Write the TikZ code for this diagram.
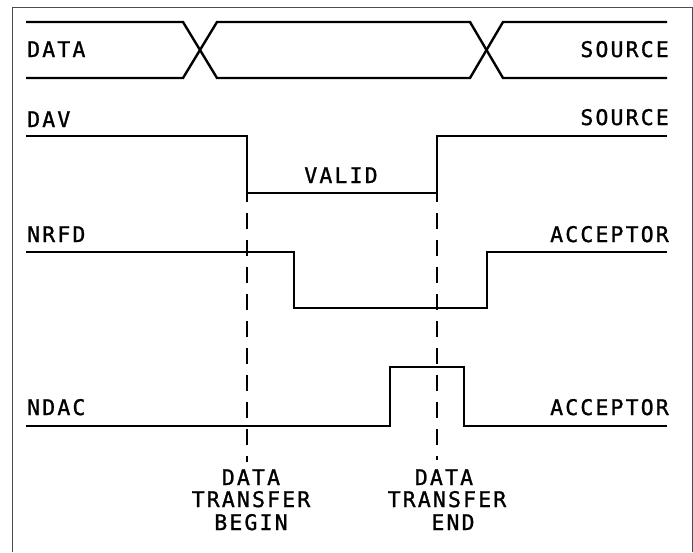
\documentclass[tikz,border=0pt]{standalone}
\usepackage{fontspec}
\setmainfont{DejaVu Sans Mono}[LetterSpace=10,FakeBold=1.2]
\begin{document}
\begin{tikzpicture}[x=1pt,y=-1pt,
  sig/.style={line width=2.4pt,line join=miter},
  guide/.style={line width=2.4pt,dash pattern=on 16pt off 11pt,dash phase=7pt},
  frame/.style={line width=0.9pt,draw=black!70},
  lbl/.style={inner sep=0pt,font=\fontsize{21.5}{22}\selectfont},
  lft/.style={lbl,anchor=base west},
  rgt/.style={lbl,anchor=base east},
  ctr/.style={lbl,anchor=base,align=center}]
\useasboundingbox (0,0) rectangle (693,552);
% frame
\draw[frame] (12,552) -- (12,7) -- (692,7) -- (692,552);
% DATA bus
\draw[sig] (26,22) -- (183,22) -- (217,78) -- (470,78) -- (503,22) -- (667,22);
\draw[sig] (26,78) -- (183,78) -- (217,22) -- (470,22) -- (503,78) -- (667,78);
\node[lft] (ldata) at (27,57) {DATA};
\node[rgt] (rdata) at (669,57) {SOURCE};
% DAV
\draw[sig] (26,136) -- (247,136) -- (247,193) -- (437,193) -- (437,136) -- (667,136);
\node[lft] (ldav) at (27,127) {DAV};
\node[rgt] (rdav) at (669,125) {SOURCE};
\node[lbl,anchor=base] (valid) at (341,183) {VALID};
% NRFD
\draw[sig] (26,252) -- (294,252) -- (294,308) -- (487,308) -- (487,252) -- (667,252);
\node[lft] (lnrfd) at (27,242) {NRFD};
\node[rgt] (rnrfd) at (669,242) {ACCEPTOR};
% NDAC
\draw[sig] (26,426) -- (390,426) -- (390,367) -- (464,367) -- (464,426) -- (667,426);
\node[lft] (lndac) at (27,415) {NDAC};
\node[rgt] (rndac) at (669,415) {ACCEPTOR};
% guides
\coordinate (g1a) at (247,193); \coordinate (g1b) at (247,462);
\coordinate (g2a) at (437,193); \coordinate (g2b) at (437,460);
\draw[guide] (g1a) -- (g1b);
\draw[guide] (g2a) -- (g2b);
\node[lbl,anchor=base] (b1) at (251,485) {DATA};
\node[lbl,anchor=base] (b2) at (251,507) {TRANSFER};
\node[lbl,anchor=base] (b3) at (251,530) {BEGIN};
\node[lbl,anchor=base] (e1) at (444,485) {DATA};
\node[lbl,anchor=base] (e2) at (447,507) {TRANSFER};
\node[lbl,anchor=base] (e3) at (453,530) {END};
\end{tikzpicture}
\end{document}
